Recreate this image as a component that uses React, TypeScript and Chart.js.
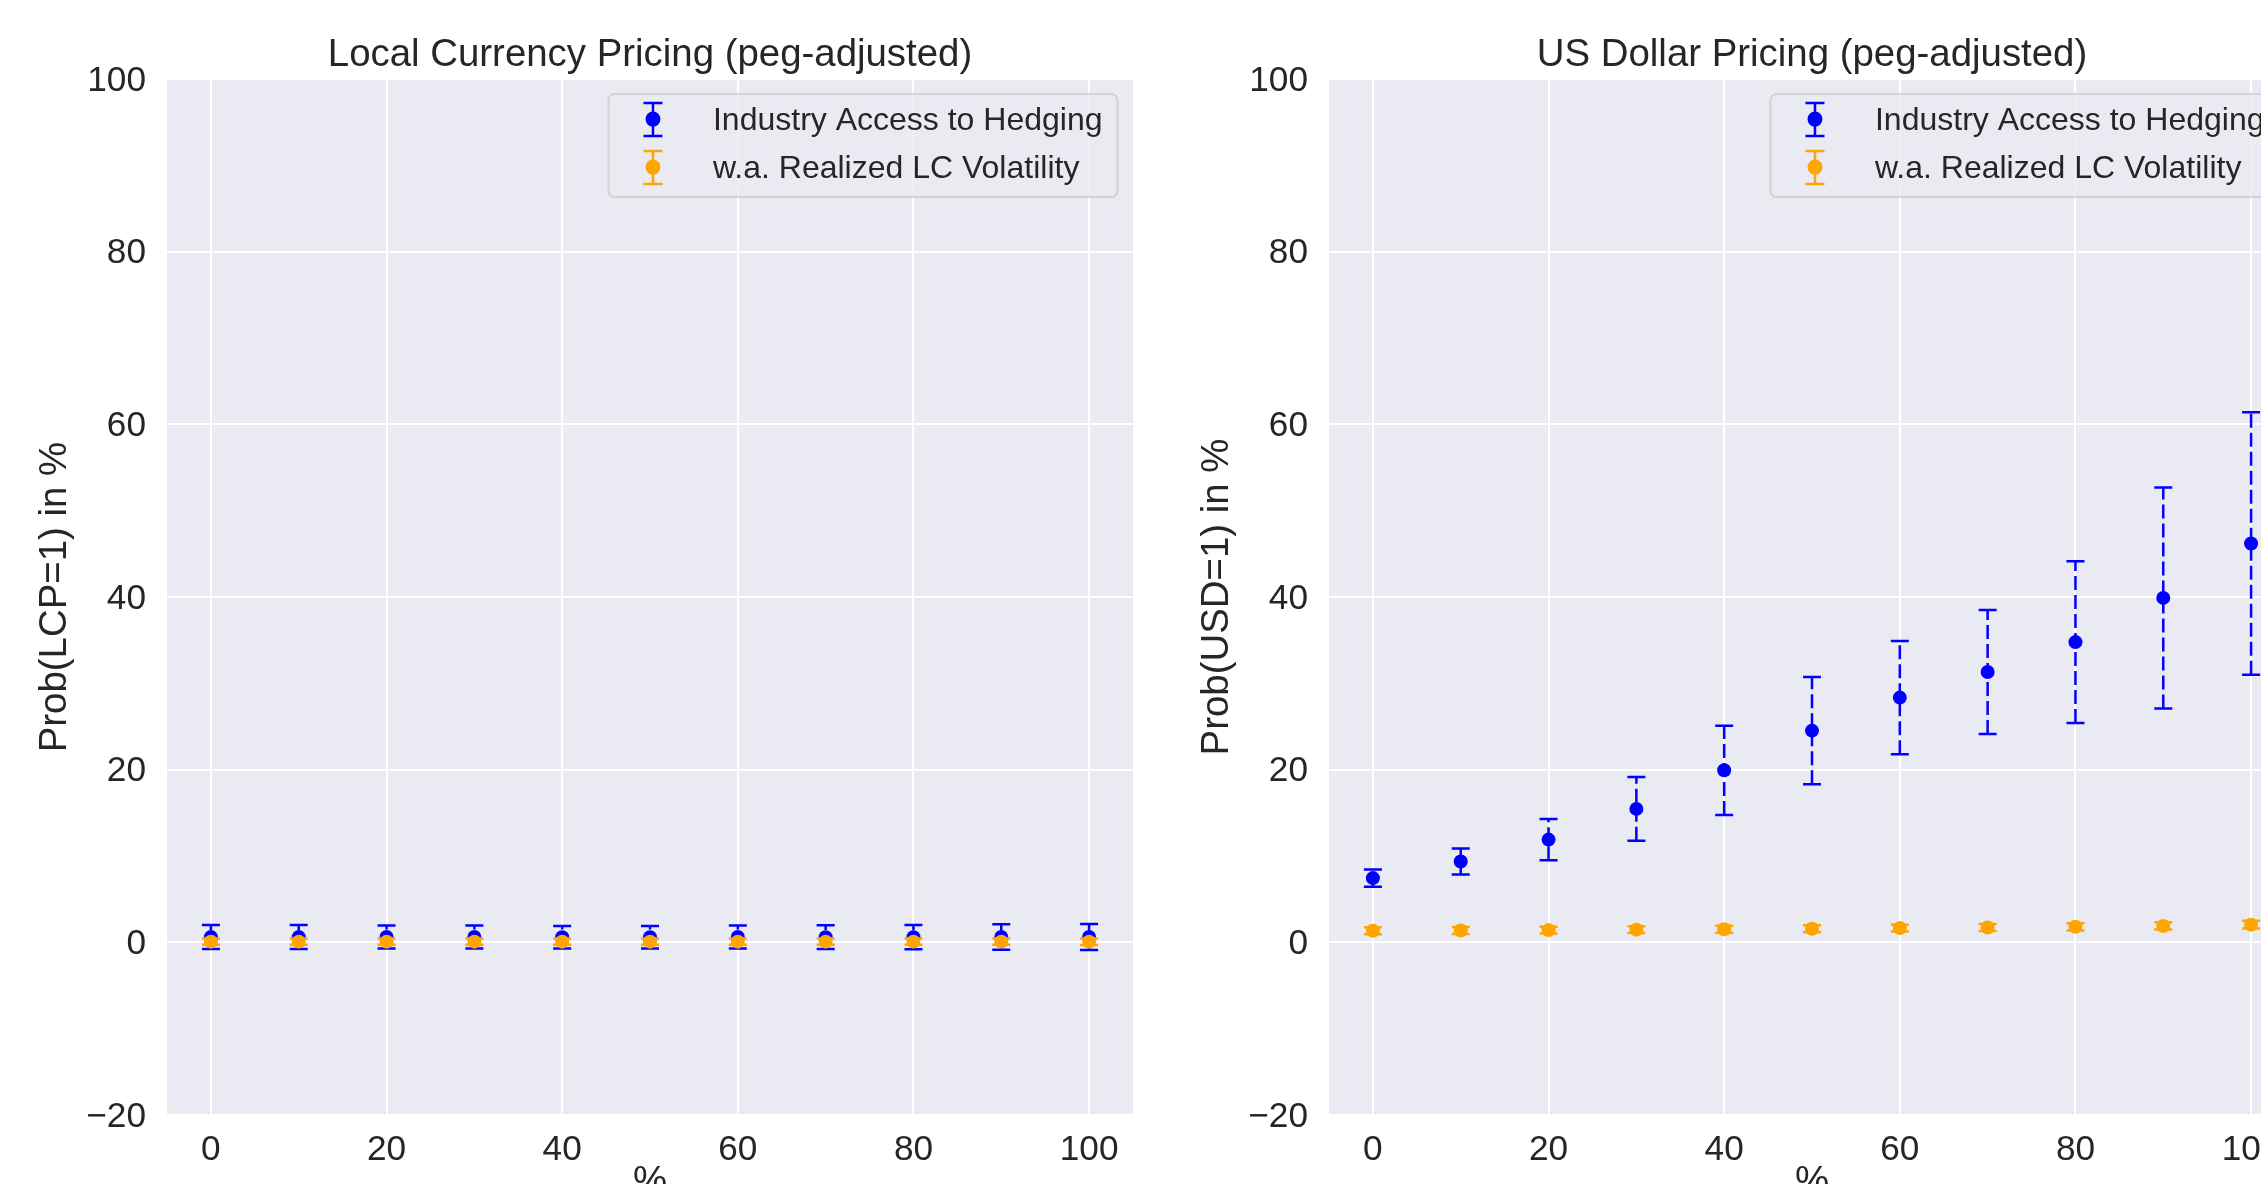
import React, { useEffect, useRef } from "react";
import { Chart, registerables } from "chart.js";

Chart.register(...registerables);

// Share of imports (%) on the horizontal axis
const xShares = [0, 10, 20, 30, 40, 50, 60, 70, 80, 90, 100];
const xTicks = [0, 20, 40, 60, 80, 100];
const yTicks = [-20, 0, 20, 40, 60, 80, 100];

const seriesLabels = ["Industry Access to Hedging", "w.a. Realized LC Volatility"];
const panelTitles = ["Local Currency Pricing (peg-adjusted)", "US Dollar Pricing (peg-adjusted)"];
const yTitles = ["Prob(LCP=1) in %", "Prob(USD=1) in %"];
const xTitle = "%";

// Local currency pricing: point estimates and half-widths of the confidence bands
const lcpHedgeMean = [0.61, 0.61, 0.62, 0.62, 0.6, 0.6, 0.63, 0.6, 0.6, 0.62, 0.62];
const lcpHedgeErr = [1.39, 1.39, 1.32, 1.32, 1.3, 1.3, 1.33, 1.37, 1.4, 1.47, 1.5];
const lcpVolMean = [0.08, 0.08, 0.08, 0.08, 0.08, 0.08, 0.08, 0.08, 0.08, 0.08, 0.08];
const lcpVolErr = [0.36, 0.36, 0.36, 0.36, 0.36, 0.36, 0.36, 0.36, 0.36, 0.37, 0.38];

// US dollar pricing
const usdHedgeMean = [7.44, 9.36, 11.9, 15.46, 19.93, 24.52, 28.35, 31.32, 34.78, 39.9, 46.2];
const usdHedgeErr = [1.01, 1.5, 2.38, 3.68, 5.17, 6.22, 6.55, 7.18, 9.38, 12.8, 15.2];
const usdVolMean = [1.35, 1.38, 1.42, 1.47, 1.52, 1.58, 1.65, 1.72, 1.8, 1.9, 2.05];
const usdVolErr = [0.4, 0.4, 0.4, 0.4, 0.4, 0.4, 0.4, 0.4, 0.42, 0.42, 0.44];

const FONT = "'Liberation Sans', Arial, Helvetica, sans-serif";
const TEXT = "#262626";
const FACE = "#EAEAF2";
const BLUE = "#0000FF";
const ORANGE = "#FFA500";

const CANVAS_W = 1162;
const CANVAS_H = 1205;

const facePlugin = {
  id: "face",
  beforeDraw(chart: any) {
    const { ctx, chartArea: a } = chart;
    ctx.save();
    ctx.fillStyle = FACE;
    ctx.fillRect(a.left, a.top, a.right - a.left, a.bottom - a.top);
    ctx.restore();
  },
};

// Vertical error bars with caps, drawn just before each dataset's markers
const errorBarPlugin = {
  id: "errorBars",
  beforeDatasetDraw(chart: any, args: any) {
    const ds = chart.data.datasets[args.index];
    if (!ds.errors) return;
    const { ctx } = chart;
    const xs = chart.scales.x;
    const ys = chart.scales.y;
    ctx.save();
    ctx.strokeStyle = ds.borderColor;
    ctx.lineWidth = 2.5;
    ds.data.forEach((p: any, i: number) => {
      const px = xs.getPixelForValue(p.x);
      const top = ys.getPixelForValue(p.y + ds.errors[i]);
      const bot = ys.getPixelForValue(p.y - ds.errors[i]);
      ctx.setLineDash(ds.errDash || []);
      ctx.beginPath();
      ctx.moveTo(px, bot);
      ctx.lineTo(px, top);
      ctx.stroke();
      ctx.setLineDash([]);
      ctx.beginPath();
      ctx.moveTo(px - 9, top);
      ctx.lineTo(px + 9, top);
      ctx.moveTo(px - 9, bot);
      ctx.lineTo(px + 9, bot);
      ctx.stroke();
    });
    ctx.restore();
  },
};

const legendPlugin = {
  id: "errLegend",
  afterDraw(chart: any) {
    const { ctx, chartArea: a } = chart;
    const datasets = chart.data.datasets;
    ctx.save();
    ctx.font = `32px ${FONT}`;
    const textW = Math.max(...datasets.map((d: any) => ctx.measureText(d.label).width));
    const w = 104.5 + textW + 15;
    const h = 103;
    const right = a.right - 15.5;
    const left = right - w;
    const top = a.top + 15;
    ctx.beginPath();
    ctx.roundRect(left, top, w, h, 6);
    ctx.fillStyle = "rgba(234,234,242,0.8)";
    ctx.fill();
    ctx.strokeStyle = "rgba(204,204,204,0.8)";
    ctx.lineWidth = 2;
    ctx.stroke();
    datasets.forEach((d: any, i: number) => {
      const cy = top + 25 + i * 48;
      const mx = left + 44.5;
      ctx.strokeStyle = d.borderColor;
      ctx.lineWidth = 2.5;
      ctx.beginPath();
      ctx.moveTo(mx, cy - 16);
      ctx.lineTo(mx, cy + 17);
      ctx.moveTo(mx - 9.5, cy - 16);
      ctx.lineTo(mx + 9.5, cy - 16);
      ctx.moveTo(mx - 9.5, cy + 17);
      ctx.lineTo(mx + 9.5, cy + 17);
      ctx.stroke();
      ctx.fillStyle = d.backgroundColor;
      ctx.beginPath();
      ctx.arc(mx, cy, 7.5, 0, Math.PI * 2);
      ctx.fill();
      ctx.fillStyle = TEXT;
      ctx.textBaseline = "middle";
      ctx.textAlign = "left";
      ctx.fillText(d.label, left + 104.5, cy + 2);
    });
    ctx.restore();
  },
};

type PanelProps = {
  left: number;
  title: string;
  yTitle: string;
  hedgeMean: number[];
  hedgeErr: number[];
  volMean: number[];
  volErr: number[];
};

function Panel({ left, title, yTitle, hedgeMean, hedgeErr, volMean, volErr }: PanelProps) {
  const ref = useRef<HTMLCanvasElement | null>(null);

  useEffect(() => {
    if (!ref.current) return;
    const tickFont = { family: FONT, size: 35.2, weight: "normal" as const, lineHeight: 1.2 };
    const labelFont = { family: FONT, size: 38.4, weight: "normal" as const, lineHeight: 1.2 };
    const chart = new Chart(ref.current, {
      type: "scatter",
      data: {
        datasets: [
          {
            label: seriesLabels[0],
            data: xShares.map((x, i) => ({ x, y: hedgeMean[i] })),
            backgroundColor: BLUE,
            borderColor: BLUE,
            pointRadius: 7,
            pointBorderWidth: 0,
            order: 2,
            errors: hedgeErr,
            errDash: [14, 5],
          } as any,
          {
            label: seriesLabels[1],
            data: xShares.map((x, i) => ({ x, y: volMean[i] })),
            backgroundColor: ORANGE,
            borderColor: ORANGE,
            pointRadius: 7,
            pointBorderWidth: 0,
            order: 1,
            errors: volErr,
          } as any,
        ],
      },
      options: {
        animation: false,
        responsive: false,
        maintainAspectRatio: false,
        layout: { padding: { left: 0, right: 29, top: 0, bottom: 0 } },
        plugins: {
          legend: { display: false },
          tooltip: { enabled: false },
          title: {
            display: true,
            text: title,
            fullSize: false,
            color: TEXT,
            font: labelFont,
            padding: { top: 32.5, bottom: 0.5 },
          },
        },
        scales: {
          x: {
            type: "linear",
            min: -5,
            max: 105,
            afterBuildTicks: (s: any) => {
              s.ticks = xTicks.map((v) => ({ value: v }));
            },
            afterFit: (s: any) => {
              s.height = 90;
            },
            grid: { color: "#FFFFFF", lineWidth: 2, drawTicks: false },
            border: { display: false },
            ticks: { color: TEXT, font: tickFont, padding: 14.5, autoSkip: false, maxRotation: 0 },
            title: { display: true, text: xTitle, color: TEXT, font: labelFont, padding: 0 },
          },
          y: {
            type: "linear",
            min: -20,
            max: 100,
            afterBuildTicks: (s: any) => {
              s.ticks = yTicks.map((v) => ({ value: v }));
            },
            afterFit: (s: any) => {
              s.width = 167;
            },
            grid: { color: "#FFFFFF", lineWidth: 2, drawTicks: false },
            border: { display: false },
            ticks: {
              color: TEXT,
              font: tickFont,
              padding: 21,
              labelOffset: 2,
              callback: (v: any) => (Number(v) < 0 ? "\u2212" + Math.abs(Number(v)) : String(v)),
            },
            title: { display: true, text: yTitle, color: TEXT, font: labelFont, padding: { top: 32, bottom: 0 } },
          },
        },
      } as any,
      plugins: [facePlugin, errorBarPlugin, legendPlugin],
    });
    return () => chart.destroy();
  }, [title, yTitle, hedgeMean, hedgeErr, volMean, volErr]);

  return (
    <canvas
      ref={ref}
      width={CANVAS_W}
      height={CANVAS_H}
      style={{ position: "absolute", left, top: 0, width: CANVAS_W, height: CANVAS_H }}
    />
  );
}

export default function App() {
  return (
    <div
      style={{
        position: "fixed",
        left: 0,
        top: 0,
        width: 2261,
        height: 1184,
        overflow: "hidden",
        background: "#FFFFFF",
      }}
    >
      <Panel
        left={0}
        title={panelTitles[0]}
        yTitle={yTitles[0]}
        hedgeMean={lcpHedgeMean}
        hedgeErr={lcpHedgeErr}
        volMean={lcpVolMean}
        volErr={lcpVolErr}
      />
      <Panel
        left={1162}
        title={panelTitles[1]}
        yTitle={yTitles[1]}
        hedgeMean={usdHedgeMean}
        hedgeErr={usdHedgeErr}
        volMean={usdVolMean}
        volErr={usdVolErr}
      />
    </div>
  );
}
